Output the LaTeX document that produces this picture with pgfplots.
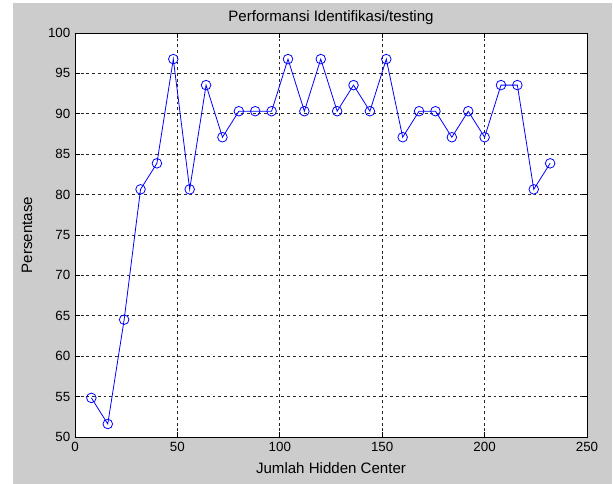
\documentclass[border=0pt]{standalone}
\usepackage{fontspec}
\setmainfont{Liberation Sans}
\usepackage{pgfplots}
\pgfplotsset{compat=1.18}
\definecolor{figgray}{RGB}{204,204,204}
\definecolor{mblue}{RGB}{0,0,255}
\begin{document}
\begin{tikzpicture}
% figure canvas (MATLAB grey)
\fill[white] (-56.25pt,-35.25pt) rectangle (403.5pt,327.75pt);
\fill[figgray] (-46.5pt,-35.25pt) rectangle (402.75pt,325.5pt);
\begin{axis}[
    scale only axis=true,
    width=384pt,
    height=303pt,
    at={(0,0)}, anchor=south west,
    axis background/.style={fill=white},
    xmin=0, xmax=250,
    ymin=50, ymax=100,
    xtick={0,50,...,250},
    ytick={50,55,...,100},
    tick align=inside,
    major tick length=3.5pt,
    tick style={black, line width=0.5pt},
    axis line style={black, line width=0.6pt},
    grid=major,
    major grid style={black!85, line width=0.6pt, dash pattern=on 2.1pt off 2.2pt},
    /pgf/number format/assume math mode=true,
    tick label style={font=\fontsize{10}{12}\selectfont, black},
    title={Performansi Identifikasi/testing},
    title style={font=\fontsize{11.3}{13}\selectfont, yshift=-3.5pt},
    xlabel={Jumlah Hidden Center},
    ylabel={Persentase},
    label style={font=\fontsize{11.3}{13}\selectfont},
    xlabel style={yshift=-2pt},
    ylabel style={yshift=5pt},
  ]
  \addplot[mblue, line width=0.6pt, mark=o, mark size=3.6pt,
           mark options={mblue, line width=0.6pt}] coordinates {
    (8,54.84) (16,51.61) (24,64.52) (32,80.65) (40,83.87)
    (48,96.77) (56,80.65) (64,93.55) (72,87.10) (80,90.32)
    (88,90.32) (96,90.32) (104,96.77) (112,90.32) (120,96.77)
    (128,90.32) (136,93.55) (144,90.32) (152,96.77) (160,87.10)
    (168,90.32) (176,90.32) (184,87.10) (192,90.32) (200,87.10)
    (208,93.55) (216,93.55) (224,80.65) (232,83.87)
  };
\end{axis}
\end{tikzpicture}
\end{document}
